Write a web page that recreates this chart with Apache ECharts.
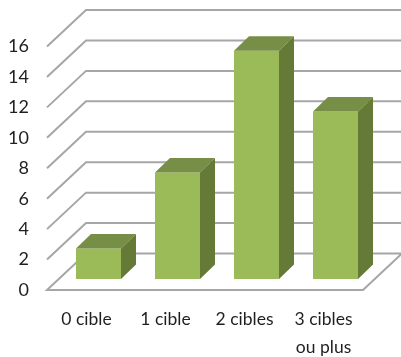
<!DOCTYPE html>
<html><head><meta charset="utf-8">
<style>html,body{margin:0;padding:0;background:#fff}#c{width:401px;height:357px}</style>
<script src="https://cdn.jsdelivr.net/npm/echarts@6/dist/echarts.min.js"></script>
</head><body><div id="c"></div>
<script>
var categories = ['0 cible', '1 cible', '2 cibles', '3 cibles\nou plus'];
var values = [2, 7, 15, 11];
var gridTicks = [0, 2, 4, 6, 8, 10, 12, 14, 16];

var wallDx = 39, wallDy = -36.5, barShiftX = 12, barShiftY = -11, barW = 45, depthX = 15, depthY = -14.5;
var chart = echarts.init(document.getElementById('c'), null, {renderer: 'canvas'});

function gridItem(params, api) {
  var v = api.value(1);
  var cs = params.coordSys;
  var y = api.coord([0, v])[1];
  var x0 = cs.x, x1 = cs.x + cs.width;
  var pts = [[x0, y], [x0 + wallDx, y + wallDy], [x1 + wallDx, y + wallDy]];
  if (v === 0) pts = [[x1 + wallDx, y + wallDy], [x0 + wallDx, y + wallDy], [x0, y], [x1, y], [x1 + wallDx, y + wallDy]];
  return {type: 'polyline', shape: {points: pts},
    style: {stroke: '#a6a6a6', lineWidth: 2, fill: null}};
}
function barItem(params, api) {
  var c = api.coord([api.value(0), api.value(1)]);
  var b = api.coord([api.value(0), 0]);
  var l = c[0] + barShiftX - barW / 2, r = l + barW;
  var t = c[1] + barShiftY, bt = b[1] + barShiftY;
  return {type: 'group', children: [
    {type: 'rect', shape: {x: l, y: t, width: barW, height: bt - t}, style: {fill: '#9bbb59'}},
    {type: 'polygon', shape: {points: [[l, t], [l + depthX, t + depthY], [r + depthX, t + depthY], [r, t]]}, style: {fill: '#778e46'}},
    {type: 'polygon', shape: {points: [[r, t], [r + depthX, t + depthY], [r + depthX, bt + depthY], [r, bt]]}, style: {fill: '#647a36'}}
  ]};
}
var font = 'Lato, sans-serif';
chart.setOption({
  animation: false,
  backgroundColor: '#fff',
  grid: {left: 47, right: 38, top: 46.5, bottom: 67, outerBoundsMode: 'none'},
  xAxis: {type: 'category', data: categories,
    axisLine: {show: false}, axisTick: {show: false},
    axisLabel: {color: '#1f1f1f', fontFamily: font, fontSize: 17.5, margin: 15, lineHeight: 28, interval: 0}},
  yAxis: {type: 'value', min: 0, max: 16, interval: 2,
    axisLine: {show: false}, axisTick: {show: false}, splitLine: {show: false},
    axisLabel: {color: '#1f1f1f', fontFamily: font, fontSize: 18, margin: 18, padding: [3, 0, 0, 0]}},
  series: [
    {type: 'custom', renderItem: gridItem, z: 1, silent: true, encode: {x: 0, y: 1},
      data: gridTicks.map(function (t) { return [0, t]; })},
    {type: 'custom', renderItem: barItem, z: 2, silent: true, encode: {x: 0, y: 1},
      data: values.map(function (v, i) { return [i, v]; })}
  ]
});
</script></body></html>
